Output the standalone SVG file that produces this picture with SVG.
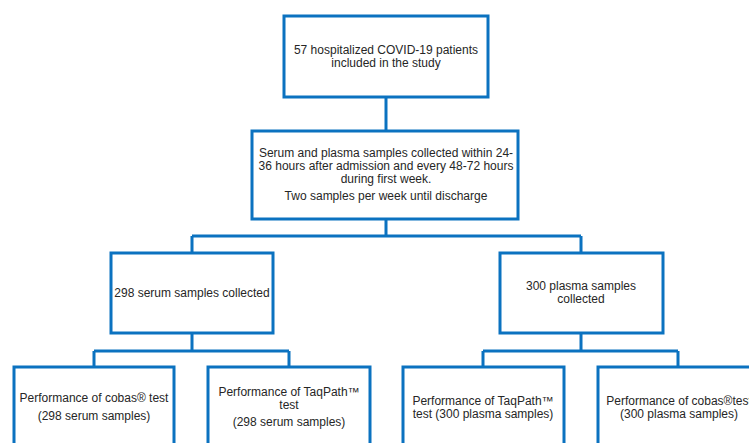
<svg xmlns="http://www.w3.org/2000/svg" width="749" height="443" viewBox="0 0 749 443">
<style>
.box{fill:#fff;stroke:#0b72c0;stroke-width:3}
.con{fill:none;stroke:#0b72c0;stroke-width:3}
text{font-family:"Liberation Sans",Arial,sans-serif;font-size:12px;fill:#262626;text-anchor:middle}
</style>
<rect width="749" height="443" fill="#fff"/>
<g id="connectors">
<path class="con" d="M386 97V131"/>
<path class="con" d="M386 219V236M192 236H581M192 236V253M581 236V253"/>
<path class="con" d="M192 333V351M94 351H289M94 351V367M289 351V367"/>
<path class="con" d="M581 333V351M483 351H678M483 351V367M678 351V367"/>
</g>
<g id="n1"><rect class="box" x="284" y="16" width="204" height="81"/>
<text x="386" y="54">57 hospitalized COVID-19 patients</text>
<text x="386" y="67">included in the study</text></g>
<g id="n2"><rect class="box" x="252" y="131" width="266" height="88"/>
<text x="386" y="157">Serum and plasma samples collected within 24-</text>
<text x="386" y="170">36 hours after admission and every 48-72 hours</text>
<text x="386" y="183">during first week.</text>
<text x="386" y="200">Two samples per week until discharge</text></g>
<g id="n3"><rect class="box" x="111" y="253" width="162" height="80"/>
<text x="192" y="297">298 serum samples collected</text></g>
<g id="n4"><rect class="box" x="500" y="253" width="163" height="80"/>
<text x="581" y="290">300 plasma samples</text>
<text x="581" y="303">collected</text></g>
<g id="n5"><rect class="box" x="14" y="367" width="160" height="90"/>
<text x="94" y="402">Performance of cobas® test</text>
<text x="94" y="420">(298 serum samples)</text></g>
<g id="n6"><rect class="box" x="208" y="367" width="162" height="90"/>
<text x="289" y="396">Performance of TaqPath™</text>
<text x="289" y="409">test</text>
<text x="289" y="426">(298 serum samples)</text></g>
<g id="n7"><rect class="box" x="403" y="367" width="161" height="90"/>
<text x="483" y="405">Performance of TaqPath™</text>
<text x="483" y="418">test (300 plasma samples)</text></g>
<g id="n8"><rect class="box" x="598" y="367" width="162" height="90"/>
<text x="679" y="405">Performance of cobas®test</text>
<text x="679" y="418">(300 plasma samples)</text></g>
</svg>
